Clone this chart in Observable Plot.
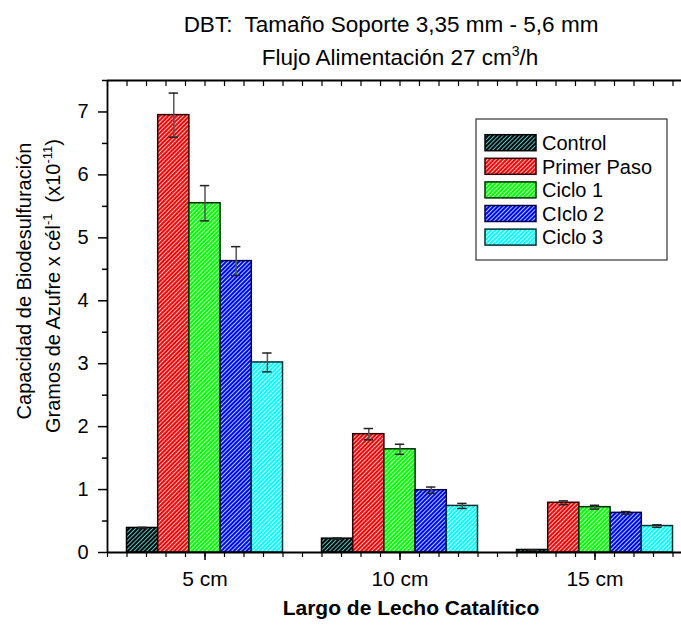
<!DOCTYPE html>
<html><head><meta charset="utf-8">
<script src="https://cdn.jsdelivr.net/npm/d3@7"></script>
<script src="https://cdn.jsdelivr.net/npm/@observablehq/plot@0.6"></script>
<style>
html,body{margin:0;padding:0;background:#fff;overflow:hidden;}
#chart{width:681px;height:629px;overflow:hidden;position:relative;}
</style></head><body><div id="chart"></div>
<script>
// ---- data ----
const lengths = [5, 10, 15];
const lengthLabels = ["5 cm", "10 cm", "15 cm"];
const series = ["Control", "Primer Paso", "Ciclo 1", "CIclo 2", "Ciclo 3"];
const control   = [0.39, 0.22, 0.04];
const primerPaso = [6.95, 1.88, 0.79];
const ciclo1    = [5.55, 1.64, 0.72];
const ciclo2    = [4.63, 0.99, 0.63];
const ciclo3    = [3.02, 0.74, 0.42];
const controlErr = [0.01, 0.01, 0.005];
const primerPasoErr = [0.35, 0.09, 0.03];
const ciclo1Err = [0.28, 0.08, 0.03];
const ciclo2Err = [0.23, 0.05, 0.02];
const ciclo3Err = [0.15, 0.04, 0.02];
const yTicks = [0, 1, 2, 3, 4, 5, 6, 7];
const titleLine1 = "DBT:  Tamaño Soporte 3,35 mm - 5,6 mm";
const xTitle = "Largo de Lecho Catalítico";

// ---- styles ----
const fills   = ["#000000", "#ff0000", "#00ff00", "#0000ff", "#00ffff"];
const stripes = ["#55c8c8", "#d0c8c8", "#c8e8c8", "#a8d8ff", "#d8ffff"];
const strokes = ["#000000", "#300000", "#003000", "#000040", "#003030"];
const FONT = "'Liberation Sans', Arial, Helvetica, sans-serif";

const values = [control, primerPaso, ciclo1, ciclo2, ciclo3];
const errors = [controlErr, primerPasoErr, ciclo1Err, ciclo2Err, ciclo3Err];
const barW = 0.8, capHalf = 0.12;
const rows = [];
lengths.forEach((len, i) => series.forEach((s, j) => {
  const x1 = len + (j - series.length / 2) * barW;
  rows.push({len, series: s, j, value: values[j][i], err: errors[j][i], x1, x2: x1 + barW, xc: x1 + barW / 2});
}));
const caps = rows.flatMap(d => [{xc: d.xc, y: d.value - d.err}, {xc: d.xc, y: d.value + d.err}]);
const yMinor = d3.range(0.5, 7.6, 1);
const xMinor = d3.range(2.5, 17.51, 0.5);

const plot = Plot.plot({
  width: 681, height: 629,
  marginTop: 80, marginBottom: 77, marginLeft: 107, marginRight: -11,
  style: {fontFamily: FONT, fontSize: "20px", color: "#000", background: "#fff"},
  x: {domain: [2.5, 17.5], label: null},
  y: {domain: [0, 7.5], label: null},
  color: {type: "identity"},
  marks: [
    Plot.rectY(rows, {x1: "x1", x2: "x2", y1: 0, y2: "value",
      fill: d => `url(#hatch${d.j})`, stroke: d => strokes[d.j], strokeWidth: 1.5}),
    Plot.ruleX(rows, {x: "xc", y1: d => d.value - d.err, y2: d => d.value + d.err, stroke: "#555", strokeWidth: 1.5}),
    Plot.ruleY(caps, {y: "y", x1: d => d.xc - capHalf, x2: d => d.xc + capHalf, stroke: "#222", strokeWidth: 1.5}),
    Plot.axisY(yTicks, {tickSize: 9, tickPadding: 10, fontSize: 20, strokeWidth: 1.5, label: null, tickFormat: d => String(d)}),
    Plot.axisY(yMinor, {tickSize: 5, tickFormat: () => "", strokeWidth: 1.5, label: null}),
    Plot.axisX(lengths, {tickSize: 8, tickPadding: 11, fontSize: 21, strokeWidth: 1.5,
      tickFormat: d => lengthLabels[lengths.indexOf(d)], label: null}),
    Plot.axisX(xMinor, {tickSize: 5, tickFormat: () => "", strokeWidth: 1.2, label: null}),
    Plot.axisX(xMinor, {anchor: "top", tickSize: -5, tickFormat: () => "", strokeWidth: 1.2, label: null}),
    Plot.ruleX([2.5], {stroke: "#000", strokeWidth: 1.8}),
    Plot.ruleY([0], {stroke: "#000", strokeWidth: 1.8}),
    Plot.ruleY([7.5], {stroke: "#000", strokeWidth: 1.8}),
    Plot.text([xTitle], {frameAnchor: "bottom", text: d => d, dx: 11, dy: 56, fontSize: 21, fontWeight: "bold", lineAnchor: "middle"})
  ]
});

const svgEl = plot.tagName.toLowerCase() === "svg" ? plot : plot.querySelector("svg");
document.getElementById("chart").appendChild(plot);
const svg = d3.select(svgEl);

// hatch patterns
const defs = svg.insert("defs", ":first-child");
series.forEach((s, j) => {
  const p = defs.append("pattern").attr("id", `hatch${j}`).attr("patternUnits", "userSpaceOnUse")
    .attr("width", 3).attr("height", 3).attr("patternTransform", "rotate(45)");
  p.append("rect").attr("width", 3).attr("height", 3).attr("fill", fills[j]);
  p.append("line").attr("x1", 1.5).attr("y1", 0).attr("x2", 1.5).attr("y2", 3)
    .attr("stroke", stripes[j]).attr("stroke-width", 1);
});

// titles
svg.append("text").attr("x", 391).attr("y", 31.5).attr("text-anchor", "middle")
  .attr("font-size", 22.5).attr("font-family", FONT).style("white-space", "pre").text(titleLine1);
const t2 = svg.append("text").attr("x", 400).attr("y", 65).attr("text-anchor", "middle")
  .attr("font-size", 22.5).attr("font-family", FONT);
t2.append("tspan").text("Flujo Alimentación 27 cm");
t2.append("tspan").attr("font-size", 14).attr("dy", -9).text("3");
t2.append("tspan").attr("dy", 9).text("/h");

// y label
const yl = svg.append("g").attr("font-family", FONT).attr("font-size", 20).attr("text-anchor", "middle");
yl.append("text").attr("transform", "translate(31,281) rotate(-90)").text("Capacidad de Biodesulfuración");
const l2 = yl.append("text").attr("transform", "translate(60,286) rotate(-90)").style("white-space", "pre");
l2.append("tspan").text("Gramos de Azufre x cél");
l2.append("tspan").attr("font-size", 13).attr("dy", -8).text("-1");
l2.append("tspan").attr("dy", 8).text("  (x10");
l2.append("tspan").attr("font-size", 13).attr("dy", -8).text("-11");
l2.append("tspan").attr("dy", 8).text(")");

// legend
const lg = svg.append("g").attr("font-family", FONT).attr("font-size", 20).attr("text-anchor", "start");
lg.append("rect").attr("x", 476).attr("y", 119).attr("width", 191).attr("height", 141)
  .attr("fill", "#fff").attr("stroke", "#333").attr("stroke-width", 1.2);
series.forEach((s, j) => {
  const cy = 142.7 + j * 23.6;
  lg.append("rect").attr("x", 485).attr("y", cy - 8).attr("width", 51).attr("height", 16)
    .attr("fill", `url(#hatch${j})`).attr("stroke", strokes[j]).attr("stroke-width", 1.5);
  lg.append("text").attr("x", 542).attr("y", cy + 7.2).text(s);
});
</script></body></html>
